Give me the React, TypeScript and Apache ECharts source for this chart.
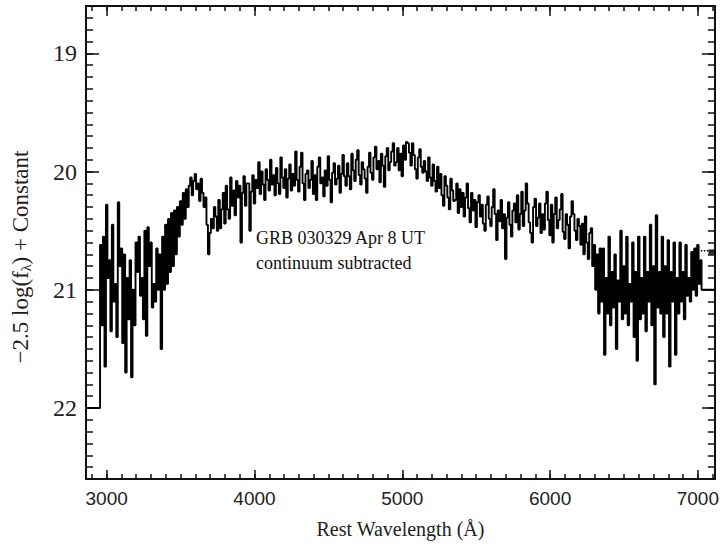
import React, { useEffect, useRef } from "react";
import * as echarts from "echarts";

// ---- data ----
const X_RANGE = [2860, 7115];
const Y_RANGE = [18.6, 22.6];
const X_TICK_LABELS = [3000, 4000, 5000, 6000, 7000];
const Y_TICK_LABELS = [19, 20, 21, 22];

const WAVE_START = 2955; // Å, left edge of first bin
const BIN_WIDTH = 10; // Å
const LEADING_LEVEL = 22.0;
const TRAILING_LEVEL = 21.0;

// −2.5 log(f_λ) + const, one value per 10 Å bin (each row = 200 Å)
const FLUX = [
  20.62, 21.30, 20.55, 21.65, 20.28, 20.90, 20.75, 21.35, 20.45, 21.10, 20.95, 21.40, 20.26, 20.80, 20.65, 21.45, 20.70, 21.70, 20.90, 21.25,
  20.75, 21.74, 21.00, 21.30, 20.60, 20.85, 20.55, 21.05, 20.90, 21.25, 20.50, 21.39, 20.47, 20.80, 20.60, 21.15, 20.95, 21.10, 20.65, 21.00,
  20.70, 21.50, 20.55, 21.00, 20.45, 20.95, 20.40, 20.85, 20.35, 20.80, 20.33, 20.70, 20.30, 20.55, 20.25, 20.45, 20.18, 20.40, 20.15, 20.30,
  20.12, 20.05, 20.20, 20.08, 20.02, 20.15, 20.10, 20.25, 20.06, 20.18, 20.30, 20.22, 20.45, 20.70, 20.52, 20.40, 20.48, 20.30, 20.38, 20.50,
  20.24, 20.48, 20.32, 20.18, 20.44, 20.12, 20.32, 20.40, 20.05, 20.29, 20.16, 20.37, 20.08, 20.22, 20.12, 20.60, 20.18, 20.04, 20.29, 20.10,
  20.10, 20.50, 20.17, 20.03, 20.27, 20.07, 20.14, 19.92, 20.19, 20.00, 20.11, 20.24, 19.98, 20.07, 20.16, 19.90, 20.11, 20.03, 20.20, 19.97,
  20.10, 20.19, 19.88, 20.05, 20.14, 19.98, 20.22, 20.06, 19.94, 20.16, 20.02, 20.12, 19.83, 20.07, 20.17, 19.96, 19.84, 20.10, 20.24, 20.02,
  19.99, 20.14, 20.07, 19.91, 20.19, 20.03, 20.24, 19.96, 19.88, 20.10, 20.05, 20.21, 19.99, 20.12, 19.87, 20.07, 20.26, 20.01, 19.93, 20.11,
  20.06, 19.95, 20.18, 20.02, 19.86, 20.04, 20.12, 19.93, 20.04, 20.15, 19.85, 19.99, 20.08, 19.90, 19.82, 20.03, 20.11, 19.92, 19.98, 20.06,
  20.18, 19.96, 19.84, 20.01, 20.07, 19.88, 19.79, 19.98, 19.91, 20.09, 19.85, 19.95, 20.13, 19.87, 19.80, 19.99, 19.92, 19.83, 19.76, 19.95,
  19.92, 19.80, 19.99, 19.85, 20.04, 19.78, 19.90, 19.75, 19.76, 19.84, 19.95, 19.76, 19.86, 19.98, 20.06, 19.88, 19.81, 19.96, 20.01, 19.91,
  20.00, 20.08, 19.88, 20.05, 20.12, 19.94, 20.08, 20.17, 19.96, 20.14, 20.02, 20.20, 20.29, 20.04, 20.12, 20.22, 20.32, 20.06, 20.16, 20.25,
  20.24, 20.10, 20.35, 20.15, 20.30, 20.18, 20.38, 20.22, 20.10, 20.31, 20.43, 20.18, 20.33, 20.24, 20.47, 20.26, 20.20, 20.38, 20.28, 20.44,
  20.50, 20.28, 20.21, 20.40, 20.46, 20.30, 20.15, 20.36, 20.58, 20.33, 20.42, 20.24, 20.48, 20.36, 20.74, 20.39, 20.26, 20.45, 20.55, 20.33,
  20.27, 20.43, 20.20, 20.49, 20.36, 20.17, 20.46, 20.33, 20.10, 20.27, 20.43, 20.52, 20.60, 20.30, 20.23, 20.46, 20.39, 20.27, 20.52, 20.36,
  20.49, 20.27, 20.17, 20.41, 20.54, 20.28, 20.60, 20.36, 20.22, 20.48, 20.41, 20.32, 20.19, 20.51, 20.57, 20.36, 20.45, 20.65, 20.38, 20.25,
  20.36, 20.50, 20.58, 20.40, 20.46, 20.62, 20.44, 20.70, 20.38, 20.60, 20.74, 20.52, 20.48, 20.80, 20.62, 21.00, 20.70, 21.20, 20.65, 21.10,
  20.65, 21.55, 20.90, 21.20, 20.55, 21.30, 20.85, 21.15, 20.70, 21.50, 20.92, 21.10, 20.50, 21.25, 20.80, 21.20, 20.55, 21.30, 20.95, 21.10,
  20.60, 21.40, 20.85, 21.60, 20.55, 21.25, 20.90, 21.20, 20.55, 21.35, 20.85, 21.10, 20.45, 21.30, 20.80, 21.80, 20.37, 21.15, 20.85, 21.20,
  20.55, 21.40, 20.80, 21.20, 20.58, 21.65, 20.85, 21.10, 20.60, 21.55, 20.90, 21.20, 20.60, 21.10, 20.85, 21.25, 20.62, 21.05, 20.90, 21.10,
  20.68, 21.00, 20.65, 21.05, 20.62, 20.95, 20.75, 21.00,
];

const SIDE_TRACE = [
  [7020, 20.67],
  [7115, 20.67],
];
const SIDE_POINT = [[7095, 20.68]];

const ANNOTATION = ["GRB 030329 Apr 8 UT", "continuum subtracted"];

// ---- helpers ----
function minorList(lo: number, hi: number, step: number) {
  const out: number[] = [];
  const start = Math.ceil(lo / step - 1e-9);
  for (let k = start; k * step <= hi + 1e-9; k++) {
    out.push(Math.round(k * step * 1000) / 1000);
  }
  return out;
}

export default function App() {
  const ref = useRef<HTMLDivElement>(null);

  useEffect(() => {
    if (!ref.current) return;
    const chart = echarts.init(ref.current, undefined, { renderer: "svg" });

    const spectrum: number[][] = [[X_RANGE[0], LEADING_LEVEL]];
    FLUX.forEach((f, i) => spectrum.push([WAVE_START + i * BIN_WIDTH, f]));
    spectrum.push([WAVE_START + FLUX.length * BIN_WIDTH, TRAILING_LEVEL]);
    spectrum.push([X_RANGE[1], TRAILING_LEVEL]);

    const xMinor = minorList(X_RANGE[0], X_RANGE[1], 100);
    const yMinor = minorList(Y_RANGE[0], Y_RANGE[1], 0.1);

    const ink = "#111";
    const serif = "'Liberation Serif', 'Times New Roman', serif";
    const sans = "'Liberation Sans', Arial, sans-serif";

    const xBase = (pos: string, ticks: number[], len: number, showLine: boolean, labels: boolean) => ({
      type: "value",
      position: pos,
      min: X_RANGE[0],
      max: X_RANGE[1],
      splitLine: { show: false },
      axisLine: { show: showLine, onZero: false, lineStyle: { color: ink, width: 2 } },
      axisTick: {
        show: true,
        inside: true,
        length: len,
        customValues: ticks,
        lineStyle: { color: ink, width: 1.5 },
      },
      axisLabel: labels
        ? {
            show: true,
            customValues: X_TICK_LABELS,
            formatter: (v: number) => String(v),
            margin: 10,
            color: "#222",
            fontFamily: sans,
            fontSize: 19,
          }
        : { show: false },
    });

    const yBase = (pos: string, ticks: number[], len: number, showLine: boolean, labels: boolean) => ({
      type: "value",
      position: pos,
      inverse: true,
      min: Y_RANGE[0],
      max: Y_RANGE[1],
      splitLine: { show: false },
      axisLine: { show: showLine, onZero: false, lineStyle: { color: ink, width: 2 } },
      axisTick: {
        show: true,
        inside: true,
        length: len,
        customValues: ticks,
        lineStyle: { color: ink, width: 1.5 },
      },
      axisLabel: labels
        ? {
            show: true,
            customValues: Y_TICK_LABELS,
            formatter: (v: number) => String(v),
            margin: 9,
            color: "#222",
            fontFamily: serif,
            fontSize: 24,
          }
        : { show: false },
    });

    const xMain: any = xBase("bottom", X_TICK_LABELS, 9, true, true);
    xMain.name = "Rest Wavelength (Å)";
    xMain.nameLocation = "middle";
    xMain.nameGap = 40;
    xMain.nameTextStyle = { color: "#222", fontFamily: serif, fontSize: 20 };

    chart.setOption({
      animation: false,
      backgroundColor: "#fff",
      grid: { left: 86, right: 5, top: 6, bottom: 62, containLabel: false },
      xAxis: [
        xMain,
        xBase("bottom", xMinor, 5, false, false),
        xBase("top", X_TICK_LABELS, 10, true, false),
        xBase("top", xMinor, 5, false, false),
      ],
      yAxis: [
        yBase("left", Y_TICK_LABELS, 13, true, true),
        yBase("left", yMinor, 7, false, false),
        yBase("right", Y_TICK_LABELS, 13, true, false),
        yBase("right", yMinor, 7, false, false),
      ],
      series: [
        {
          type: "line",
          xAxisIndex: 0,
          yAxisIndex: 0,
          step: "end",
          data: spectrum,
          showSymbol: false,
          symbol: "none",
          lineStyle: { color: "#000", width: 1.9 },
          silent: true,
        },
        {
          type: "line",
          xAxisIndex: 0,
          yAxisIndex: 0,
          data: SIDE_TRACE,
          symbol: "none",
          lineStyle: { color: "#000", width: 1.5, type: "dotted" },
          silent: true,
        },
        {
          type: "scatter",
          xAxisIndex: 0,
          yAxisIndex: 0,
          data: SIDE_POINT,
          symbol: "rect",
          symbolSize: [7, 5],
          itemStyle: { color: "#000" },
          silent: true,
        },
      ],
      graphic: [
        {
          type: "text",
          x: 20,
          y: 257,
          rotation: Math.PI / 2,
          style: {
            text: "{a|−2.5 log(f}{s|λ}{a|) + Constant}",
            textAlign: "center",
            textVerticalAlign: "middle",
            fill: "#2a1a1a",
            rich: {
              a: { fontFamily: serif, fontSize: 23, fill: "#2a1a1a", lineHeight: 26 },
              s: {
                fontFamily: serif,
                fontSize: 14,
                fill: "#2a1a1a",
                verticalAlign: "bottom",
                lineHeight: 14,
                padding: [8, 0, 0, 0],
              },
            },
          },
        },
        {
          type: "text",
          x: 256,
          y: 238,
          style: {
            text: ANNOTATION[0],
            fill: "#111",
            font: `18px ${serif}`,
            textAlign: "left",
            textVerticalAlign: "middle",
          },
        },
        {
          type: "text",
          x: 256,
          y: 263,
          style: {
            text: ANNOTATION[1],
            fill: "#111",
            font: `18px ${serif}`,
            textAlign: "left",
            textVerticalAlign: "middle",
          },
        },
      ],
    });

    return () => chart.dispose();
  }, []);

  return (
    <div
      ref={ref}
      style={{ position: "fixed", left: 0, top: 0, width: 722, height: 544, background: "#fff" }}
    />
  );
}
